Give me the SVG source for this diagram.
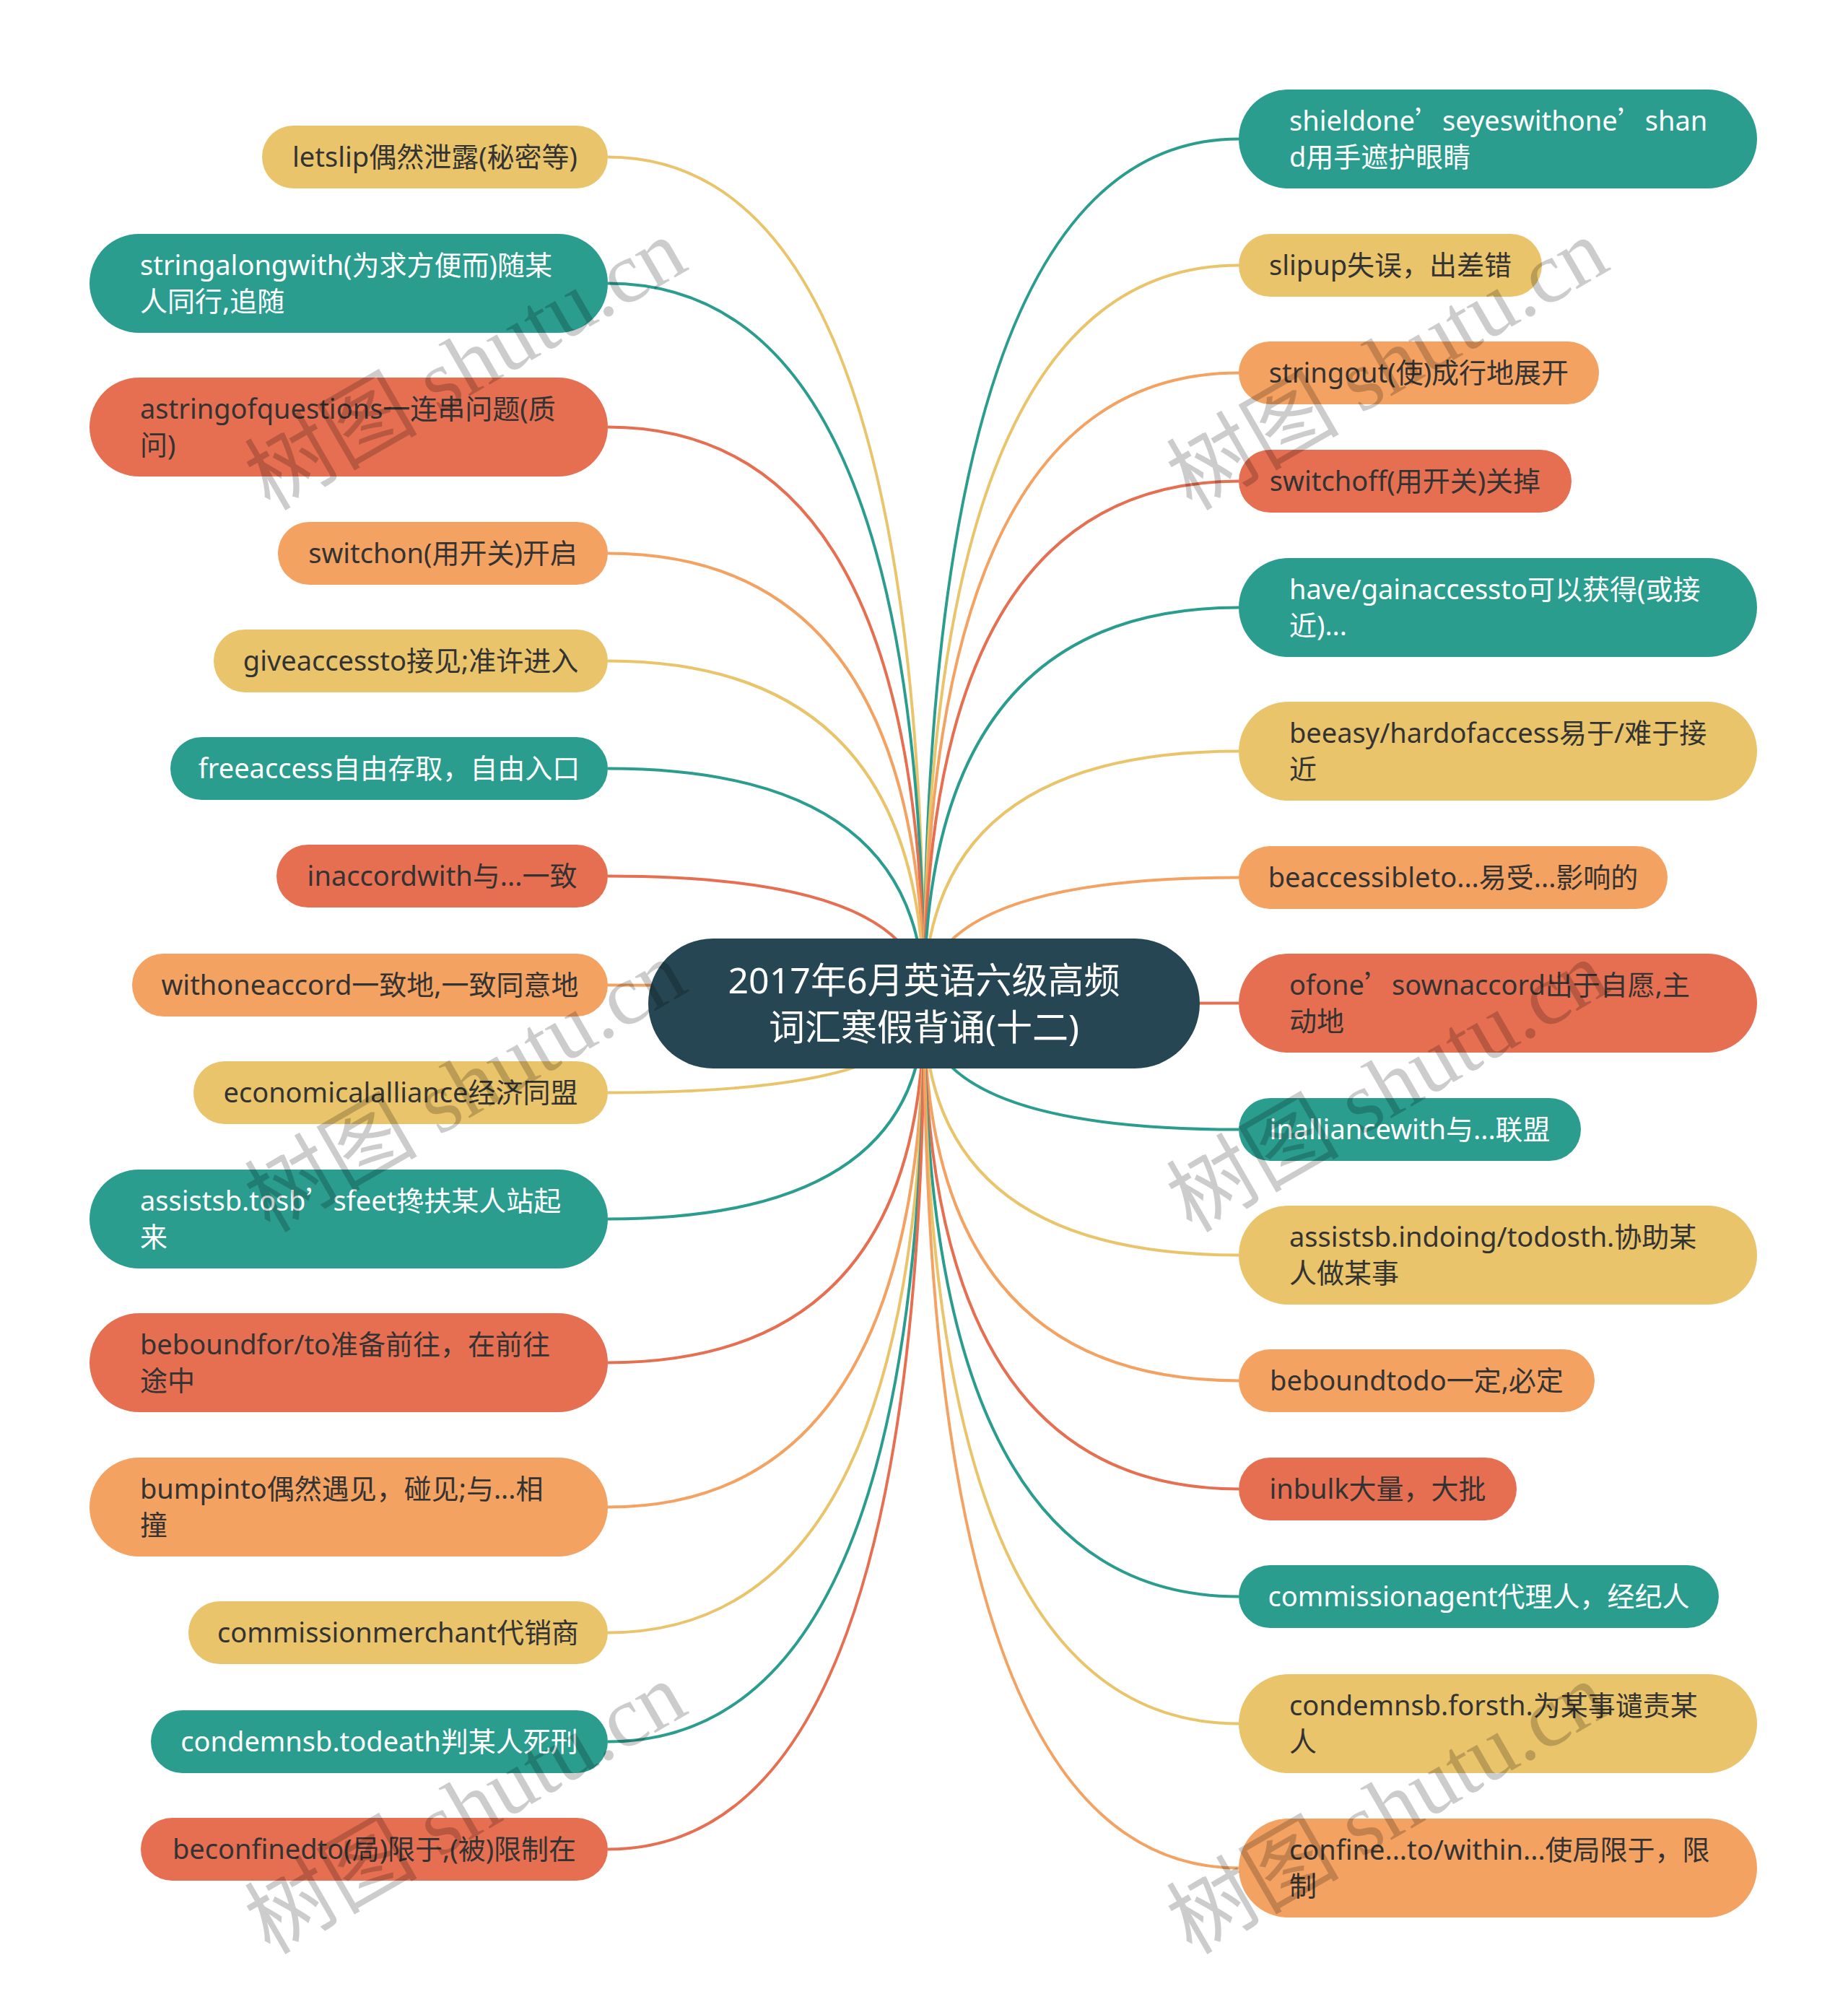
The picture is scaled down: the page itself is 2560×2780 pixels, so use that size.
<svg xmlns="http://www.w3.org/2000/svg" width="2560" height="2780" viewBox="0 0 2560 2780">
<style>
.t{font-family:"Noto Sans","Noto Sans CJK SC",sans-serif;font-size:38px}
.q{font-family:"Noto Sans CJK SC",sans-serif}
.d{fill:#333333}
.w{fill:#ffffff}
.m{text-anchor:middle}
.teal{fill:#2A9D8F}
.yel{fill:#E9C46A}
.ora{fill:#F4A261}
.red{fill:#E76F51}
.c path{fill:none;stroke-width:4}
.ct{stroke:#2A9D8F}
.cy{stroke:#E9C46A}
.co{stroke:#F4A261}
.cr{stroke:#E76F51}
.wm{font-family:"Liberation Serif","Noto Sans CJK SC",serif;font-size:120px;fill:#000;fill-opacity:0.2;text-anchor:middle;dominant-baseline:central}
</style>
<rect width="2560" height="2780" fill="#ffffff"/>
<g id="connectors" class="c">
<path class="cy" d="M1280,1390 Q1280,217.5 842,217.5"/>
<path class="ct" d="M1280,1390 Q1280,392.5 842,392.5"/>
<path class="cr" d="M1280,1390 Q1280,591.5 842,591.5"/>
<path class="co" d="M1280,1390 Q1280,766.5 842,766.5"/>
<path class="cy" d="M1280,1390 Q1280,915.5 842,915.5"/>
<path class="ct" d="M1280,1390 Q1280,1064.5 842,1064.5"/>
<path class="cr" d="M1280,1390 Q1280,1213.5 842,1213.5"/>
<path class="co" d="M1280,1390 Q1280,1364.5 842,1364.5"/>
<path class="cy" d="M1280,1390 Q1280,1513.5 842,1513.5"/>
<path class="ct" d="M1280,1390 Q1280,1688.5 842,1688.5"/>
<path class="cr" d="M1280,1390 Q1280,1887.5 842,1887.5"/>
<path class="co" d="M1280,1390 Q1280,2087.5 842,2087.5"/>
<path class="cy" d="M1280,1390 Q1280,2261.5 842,2261.5"/>
<path class="ct" d="M1280,1390 Q1280,2412.5 842,2412.5"/>
<path class="cr" d="M1280,1390 Q1280,2561.5 842,2561.5"/>
<path class="ct" d="M1280,1390 Q1280,192.5 1716,192.5"/>
<path class="cy" d="M1280,1390 Q1280,367.5 1716,367.5"/>
<path class="co" d="M1280,1390 Q1280,516.5 1716,516.5"/>
<path class="cr" d="M1280,1390 Q1280,666.5 1716,666.5"/>
<path class="ct" d="M1280,1390 Q1280,841.5 1716,841.5"/>
<path class="cy" d="M1280,1390 Q1280,1040.5 1716,1040.5"/>
<path class="co" d="M1280,1390 Q1280,1215.5 1716,1215.5"/>
<path class="cr" d="M1280,1390 Q1280,1389.5 1716,1389.5"/>
<path class="ct" d="M1280,1390 Q1280,1564.5 1716,1564.5"/>
<path class="cy" d="M1280,1390 Q1280,1738.5 1716,1738.5"/>
<path class="co" d="M1280,1390 Q1280,1912.5 1716,1912.5"/>
<path class="cr" d="M1280,1390 Q1280,2062.5 1716,2062.5"/>
<path class="ct" d="M1280,1390 Q1280,2211.5 1716,2211.5"/>
<path class="cy" d="M1280,1390 Q1280,2387.5 1716,2387.5"/>
<path class="co" d="M1280,1390 Q1280,2587.5 1716,2587.5"/>
</g>
<g id="root">
<rect x="898" y="1300" width="764" height="180" rx="90" fill="#264653"/>
<text font-family="Noto Sans, Noto Sans CJK SC, sans-serif" font-size="50" fill="#ffffff" text-anchor="middle"><tspan x="1280" y="1376">2017年6月英语六级高频</tspan><tspan x="1280" y="1441">词汇寒假背诵(十二)</tspan></text>
</g>
<g id="L1"><rect class="yel" x="363" y="174" width="479" height="87" rx="43.5"/><text class="t d m" x="602.5" y="230.5">letslip偶然泄露(秘密等)</text></g>
<g id="L2"><rect class="teal" x="124" y="324" width="718" height="137" rx="68.5"/><text class="t w"><tspan x="194" y="380.5">stringalongwith(为求方便而)随某</tspan><tspan x="194" y="430.5">人同行,追随</tspan></text></g>
<g id="L3"><rect class="red" x="124" y="523" width="718" height="137" rx="68.5"/><text class="t d"><tspan x="194" y="579.5">astringofquestions一连串问题(质</tspan><tspan x="194" y="629.5">问)</tspan></text></g>
<g id="L4"><rect class="ora" x="385" y="723" width="457" height="87" rx="43.5"/><text class="t d m" x="613.5" y="779.5">switchon(用开关)开启</text></g>
<g id="L5"><rect class="yel" x="296" y="872" width="546" height="87" rx="43.5"/><text class="t d m" x="569" y="928.5">giveaccessto接见;准许进入</text></g>
<g id="L6"><rect class="teal" x="236" y="1021" width="606" height="87" rx="43.5"/><text class="t w m" x="539" y="1077.5">freeaccess自由存取，自由入口</text></g>
<g id="L7"><rect class="red" x="383" y="1170" width="459" height="87" rx="43.5"/><text class="t d m" x="612.5" y="1226.5">inaccordwith与...一致</text></g>
<g id="L8"><rect class="ora" x="183" y="1321" width="659" height="87" rx="43.5"/><text class="t d m" x="512.5" y="1377.5">withoneaccord一致地,一致同意地</text></g>
<g id="L9"><rect class="yel" x="268" y="1470" width="574" height="87" rx="43.5"/><text class="t d m" x="555" y="1526.5">economicalalliance经济同盟</text></g>
<g id="L10"><rect class="teal" x="124" y="1620" width="718" height="137" rx="68.5"/><text class="t w"><tspan x="194" y="1676.5">assistsb.tosb<tspan class="q">’</tspan>sfeet搀扶某人站起</tspan><tspan x="194" y="1726.5">来</tspan></text></g>
<g id="L11"><rect class="red" x="124" y="1819" width="718" height="137" rx="68.5"/><text class="t d"><tspan x="194" y="1875.5">beboundfor/to准备前往，在前往</tspan><tspan x="194" y="1925.5">途中</tspan></text></g>
<g id="L12"><rect class="ora" x="124" y="2019" width="718" height="137" rx="68.5"/><text class="t d"><tspan x="194" y="2075.5">bumpinto偶然遇见，碰见;与...相</tspan><tspan x="194" y="2125.5">撞</tspan></text></g>
<g id="L13"><rect class="yel" x="261" y="2218" width="581" height="87" rx="43.5"/><text class="t d m" x="551.5" y="2274.5">commissionmerchant代销商</text></g>
<g id="L14"><rect class="teal" x="209" y="2369" width="633" height="87" rx="43.5"/><text class="t w m" x="525.5" y="2425.5">condemnsb.todeath判某人死刑</text></g>
<g id="L15"><rect class="red" x="195" y="2518" width="647" height="87" rx="43.5"/><text class="t d m" x="518.5" y="2574.5">beconfinedto(局)限于,(被)限制在</text></g>
<g id="R1"><rect class="teal" x="1716" y="124" width="718" height="137" rx="68.5"/><text class="t w"><tspan x="1786" y="180.5">shieldone<tspan class="q">’</tspan>seyeswithone<tspan class="q">’</tspan>shan</tspan><tspan x="1786" y="230.5">d用手遮护眼睛</tspan></text></g>
<g id="R2"><rect class="yel" x="1716" y="324" width="420" height="87" rx="43.5"/><text class="t d m" x="1926" y="380.5">slipup失误，出差错</text></g>
<g id="R3"><rect class="ora" x="1716" y="473" width="499" height="87" rx="43.5"/><text class="t d m" x="1965.5" y="529.5">stringout(使)成行地展开</text></g>
<g id="R4"><rect class="red" x="1716" y="623" width="461" height="87" rx="43.5"/><text class="t d m" x="1946.5" y="679.5">switchoff(用开关)关掉</text></g>
<g id="R5"><rect class="teal" x="1716" y="773" width="718" height="137" rx="68.5"/><text class="t w"><tspan x="1786" y="829.5">have/gainaccessto可以获得(或接</tspan><tspan x="1786" y="879.5">近)...</tspan></text></g>
<g id="R6"><rect class="yel" x="1716" y="972" width="718" height="137" rx="68.5"/><text class="t d"><tspan x="1786" y="1028.5">beeasy/hardofaccess易于/难于接</tspan><tspan x="1786" y="1078.5">近</tspan></text></g>
<g id="R7"><rect class="ora" x="1716" y="1172" width="594" height="87" rx="43.5"/><text class="t d m" x="2013" y="1228.5">beaccessibleto...易受...影响的</text></g>
<g id="R8"><rect class="red" x="1716" y="1321" width="718" height="137" rx="68.5"/><text class="t d"><tspan x="1786" y="1377.5">ofone<tspan class="q">’</tspan>sownaccord出于自愿,主</tspan><tspan x="1786" y="1427.5">动地</tspan></text></g>
<g id="R9"><rect class="teal" x="1716" y="1521" width="474" height="87" rx="43.5"/><text class="t w m" x="1953" y="1577.5">inalliancewith与...联盟</text></g>
<g id="R10"><rect class="yel" x="1716" y="1670" width="718" height="137" rx="68.5"/><text class="t d"><tspan x="1786" y="1726.5">assistsb.indoing/todosth.协助某</tspan><tspan x="1786" y="1776.5">人做某事</tspan></text></g>
<g id="R11"><rect class="ora" x="1716" y="1869" width="493" height="87" rx="43.5"/><text class="t d m" x="1962.5" y="1925.5">beboundtodo一定,必定</text></g>
<g id="R12"><rect class="red" x="1716" y="2019" width="385" height="87" rx="43.5"/><text class="t d m" x="1908.5" y="2075.5">inbulk大量，大批</text></g>
<g id="R13"><rect class="teal" x="1716" y="2168" width="665" height="87" rx="43.5"/><text class="t w m" x="2048.5" y="2224.5">commissionagent代理人，经纪人</text></g>
<g id="R14"><rect class="yel" x="1716" y="2319" width="718" height="137" rx="68.5"/><text class="t d"><tspan x="1786" y="2375.5">condemnsb.forsth.为某事谴责某</tspan><tspan x="1786" y="2425.5">人</tspan></text></g>
<g id="R15"><rect class="ora" x="1716" y="2519" width="718" height="137" rx="68.5"/><text class="t d"><tspan x="1786" y="2575.5">confine...to/within...使局限于，限</tspan><tspan x="1786" y="2625.5">制</tspan></text></g>
<g id="watermarks">
<text class="wm" transform="translate(645,505) rotate(-30)">树图 shutu.cn</text>
<text class="wm" transform="translate(1922,505) rotate(-30)">树图 shutu.cn</text>
<text class="wm" transform="translate(645,1505) rotate(-30)">树图 shutu.cn</text>
<text class="wm" transform="translate(1922,1505) rotate(-30)">树图 shutu.cn</text>
<text class="wm" transform="translate(645,2505) rotate(-30)">树图 shutu.cn</text>
<text class="wm" transform="translate(1922,2505) rotate(-30)">树图 shutu.cn</text>
</g>
</svg>
